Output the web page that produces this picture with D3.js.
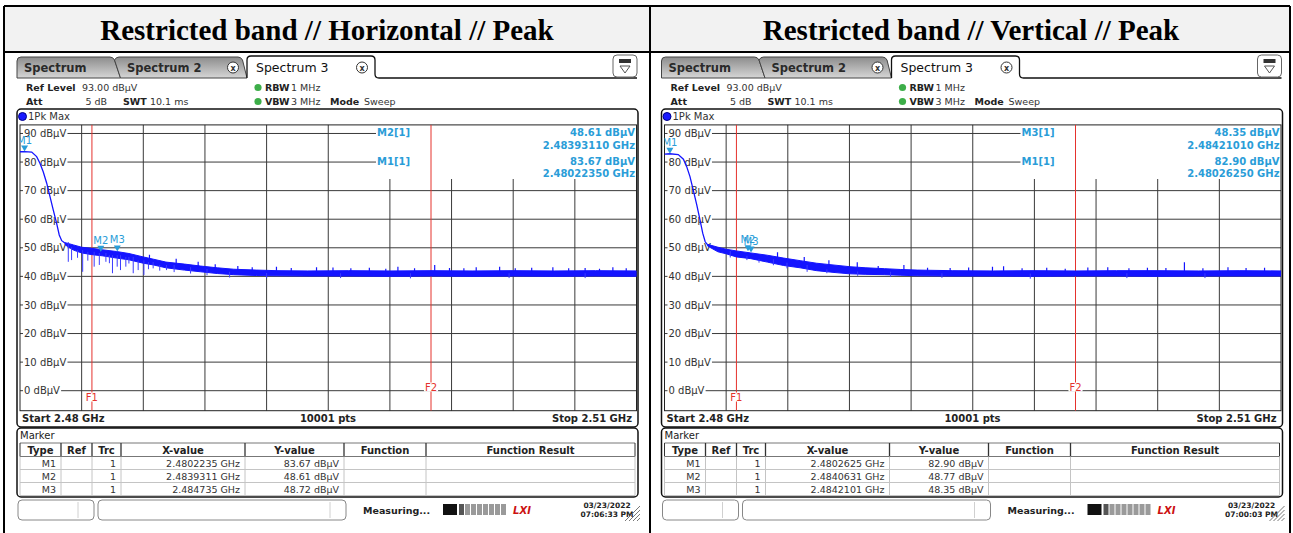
<!DOCTYPE html>
<html>
<head>
  <meta charset="utf-8">
  <script src="https://d3js.org/d3.v7.min.js"></script>
  <style>
    body { margin: 0; background: #fff; }
    svg { display: block; }
    text { font-family: "DejaVu Sans", sans-serif; }
    text.title { font-family: "Liberation Serif", "Times New Roman", serif; }
  </style>
</head>
<body>
<svg id="chart" width="1293" height="533"></svg>
<script>
  // ---- data ----
  const titles = ["Restricted band // Horizontal // Peak", "Restricted band // Vertical // Peak"];
  const freqStart = 2480, freqStop = 2510;        // MHz
  const refLevel = 93, bottomLevel = -7;          // dBµV
  const yTicks = [90, 80, 70, 60, 50, 40, 30, 20, 10, 0];
  const gridFreqs = [2483, 2486, 2489, 2492, 2495, 2498, 2501, 2504, 2507];
  const limitNames = ["F1", "F2"];
  const limitFreqs = [2483.5, 2500.0];
  const tabNames = ["Spectrum", "Spectrum 2", "Spectrum 3"];
  const tableHeads = ["Type", "Ref", "Trc", "X-value", "Y-value", "Function", "Function Result"];

  // horizontal
  const hRollF  = [2480.0, 2480.22, 2480.57, 2480.81, 2480.97, 2481.13, 2481.30, 2481.46, 2481.62, 2481.78, 2481.91, 2482.03, 2482.2];
  const hRollDb = [83.6, 83.67, 83.5, 81.9, 79.6, 76.6, 72.6, 67.9, 63.2, 58.6, 54.5, 52.5, 51.6];
  const hBandF  = [2482.2, 2482.6, 2483.0, 2483.5, 2484.0, 2484.7, 2485.3, 2486.0, 2486.5, 2487.1, 2488.0, 2488.8, 2489.6, 2490.4, 2491.5, 2492.5, 2494.0, 2496.0, 2498.0, 2500.0, 2502.0, 2504.0, 2506.0, 2508.0, 2510.0];
  const hBandHi = [51.8, 51.0, 50.2, 49.8, 49.3, 48.7, 48.0, 46.8, 46.0, 45.0, 44.3, 43.6, 43.0, 42.5, 42.2, 42.0, 41.9, 42.0, 41.9, 42.0, 41.9, 42.0, 41.9, 42.0, 41.9];
  const hBandLo = [51.0, 49.2, 48.2, 47.6, 47.2, 46.4, 45.8, 44.6, 44.0, 43.0, 42.2, 41.6, 41.0, 40.6, 40.3, 40.2, 40.1, 40.1, 40.0, 40.1, 40.0, 40.1, 40.0, 40.1, 40.0];
  const hDipF  = [2482.35, 2482.51, 2482.8, 2483.05, 2483.3, 2483.61, 2483.86, 2484.18, 2484.35, 2484.5, 2484.73, 2484.89, 2485.15, 2485.3, 2485.51, 2485.75, 2486.03, 2486.25, 2486.48, 2486.8, 2487.13, 2487.5, 2488.3, 2489.1, 2490.2, 2492.0, 2495.6, 2499.0, 2503.8, 2507.5];
  const hDipDb = [45.1, 45.7, 46.5, 41.6, 45.5, 43.4, 44.0, 45.1, 44.6, 41.1, 43.4, 42.2, 43.4, 44.5, 41.1, 42.2, 40.5, 42.5, 42.8, 42.0, 42.2, 41.5, 41.0, 40.4, 39.6, 39.4, 39.4, 39.3, 39.4, 39.4];
  const hPeakF  = [2486.3, 2487.6, 2488.67, 2489.5, 2490.6, 2491.3, 2492.48, 2493.2, 2494.43, 2495.23, 2496.1, 2497.0, 2497.8, 2498.39, 2499.2, 2500.18, 2500.9, 2501.6, 2502.2, 2503.34, 2504.1, 2504.9, 2505.93, 2506.7, 2507.5, 2508.2, 2508.85, 2509.5];
  const hPeakDb = [47.6, 46.2, 45.1, 44.2, 43.6, 43.2, 43.4, 42.9, 43.2, 43.1, 42.8, 43.0, 42.7, 43.4, 42.8, 44.0, 42.9, 42.8, 43.2, 43.4, 42.8, 43.0, 43.2, 42.8, 42.9, 42.7, 43.2, 42.8];
  const hMarkNames = ["M1", "M2", "M3"];
  const hMarkF  = [2480.2235, 2483.9311, 2484.735];
  const hMarkDb = [83.67, 48.61, 48.72];
  const hInfo = [["M2[1]", "48.61 dBµV", "2.48393110 GHz"], ["M1[1]", "83.67 dBµV", "2.48022350 GHz"]];
  const hXText = ["2.4802235 GHz", "2.4839311 GHz", "2.484735 GHz"];
  const hYText = ["83.67 dBµV", "48.61 dBµV", "48.72 dBµV"];
  const hStamp = ["03/23/2022", "07:06:33 PM"];

  // vertical
  const vRollF  = [2480.0, 2480.26, 2480.67, 2480.92, 2481.08, 2481.24, 2481.40, 2481.57, 2481.73, 2481.86, 2481.98, 2482.1];
  const vRollDb = [82.8, 82.9, 82.6, 81.0, 78.4, 74.9, 70.2, 65.0, 59.7, 55.1, 52.1, 51.0];
  const vBandF  = [2482.1, 2482.6, 2483.0, 2483.5, 2484.2, 2485.0, 2485.8, 2486.6, 2487.4, 2488.2, 2489.0, 2489.8, 2490.7, 2491.5, 2492.3, 2494.0, 2496.0, 2498.0, 2500.0, 2502.0, 2504.0, 2506.0, 2508.0, 2510.0];
  const vBandHi = [51.2, 50.2, 49.5, 48.9, 48.2, 47.4, 46.4, 45.5, 44.6, 44.0, 43.4, 43.0, 42.7, 42.4, 42.2, 42.0, 41.9, 42.0, 41.9, 42.0, 42.0, 41.9, 42.0, 41.9];
  const vBandLo = [50.6, 48.6, 47.9, 46.8, 46.2, 45.0, 43.8, 43.0, 42.0, 41.4, 40.9, 40.7, 40.6, 40.4, 40.2, 40.1, 40.1, 40.0, 40.1, 40.1, 40.0, 40.1, 40.1, 40.1];
  const vDipF  = [2483.2, 2484.01, 2484.6, 2485.3, 2485.96, 2486.94, 2487.9, 2489.4, 2491.0, 2493.5, 2497.8, 2502.5, 2506.3];
  const vDipDb = [46.6, 45.7, 44.8, 43.9, 42.8, 41.6, 41.1, 40.2, 39.8, 39.5, 39.2, 39.4, 39.4];
  const vPeakF  = [2485.5, 2486.8, 2488.0, 2489.38, 2490.4, 2491.65, 2492.8, 2493.9, 2494.8, 2495.96, 2496.5, 2497.4, 2498.6, 2499.5, 2500.6, 2501.57, 2502.6, 2503.5, 2504.4, 2505.3, 2506.2, 2507.42, 2508.3, 2509.2];
  const vPeakDb = [48.4, 46.8, 45.6, 44.9, 43.6, 44.0, 43.0, 42.9, 43.1, 43.4, 43.5, 42.8, 43.0, 42.7, 43.1, 43.2, 42.8, 43.0, 42.9, 44.9, 42.8, 43.2, 42.9, 43.0];
  const vMarkNames = ["M1", "M2", "M3"];
  const vMarkF  = [2480.2625, 2484.0631, 2484.2101];
  const vMarkDb = [82.90, 48.77, 48.35];
  const vInfo = [["M3[1]", "48.35 dBµV", "2.48421010 GHz"], ["M1[1]", "82.90 dBµV", "2.48026250 GHz"]];
  const vXText = ["2.4802625 GHz", "2.4840631 GHz", "2.4842101 GHz"];
  const vYText = ["82.90 dBµV", "48.77 dBµV", "48.35 dBµV"];
  const vStamp = ["03/23/2022", "07:00:03 PM"];

  const svg = d3.select('#chart');
  const defs = svg.append('defs');
  const tabGrad = defs.append('linearGradient').attr('id', 'tabGrad')
    .attr('x1', 0).attr('y1', 0).attr('x2', 0).attr('y2', 1);
  tabGrad.append('stop').attr('offset', '0%').attr('stop-color', '#8c8c8c');
  tabGrad.append('stop').attr('offset', '100%').attr('stop-color', '#d6d6d6');

  const BLUE = '#1414ff', MARK = '#2a9dd8', RED = '#e5322d';

  function txt(g, x, y, s, o = {}) {
    return g.append('text').attr('x', x).attr('y', y).text(s)
      .attr('font-size', o.size || 10)
      .attr('font-weight', o.bold ? 'bold' : null)
      .attr('fill', o.fill || '#222')
      .attr('text-anchor', o.anchor || 'start');
  }
  // text with a white box behind it so lines under it are hidden
  function boxed(g, x, y, s, o = {}) {
    const t = txt(g, x, y, s, o);
    const b = t.node().getBBox();
    g.insert('rect', () => t.node())
      .attr('x', b.x - 1).attr('y', b.y + 1).attr('width', b.width + 2).attr('height', b.height - 2)
      .attr('fill', '#fff');
    return t;
  }

  // ---- outer table ----
  svg.append('rect').attr('x', 4).attr('y', 6).attr('width', 1286).attr('height', 46).attr('fill', '#f2f2f2');
  [[4, 6, 1290, 6], [4, 52, 1290, 52], [4, 6, 4, 533], [650, 6, 650, 533], [1290, 6, 1290, 533]].forEach(l => {
    svg.append('line').attr('x1', l[0]).attr('y1', l[1]).attr('x2', l[2]).attr('y2', l[3])
      .attr('stroke', '#000').attr('stroke-width', 2);
  });
  [327, 971].forEach((cx, i) => {
    svg.append('text').attr('class', 'title').attr('x', cx).attr('y', 40).attr('text-anchor', 'middle')
      .attr('font-weight', 'bold').attr('font-size', 29).attr('fill', '#000').text(titles[i]);
  });

  function drawPanel(dx, p, id) {
    const g = svg.append('g').attr('transform', `translate(${dx},0)`);
    const x = d3.scaleLinear().domain([freqStart, freqStop]).range([20, 636.5]);
    const y = d3.scaleLinear().domain([bottomLevel, refLevel]).range([410.7, 124.9]);
    const top = y(refLevel), bot = y(bottomLevel), left = x(freqStart), right = x(freqStop);
    const infoLeft = 377;

    // tabs
    g.append('path').attr('d', 'M17,78 V61 Q17,57 21,57 H110 Q113,57 114.5,60 L120.5,78 Z')
      .attr('fill', 'url(#tabGrad)').attr('stroke', '#444');
    g.append('path').attr('d', 'M114.5,60 Q116,57 119,57 H238 Q241,57 242.5,60 L247,78 H120.5 Z')
      .attr('fill', 'url(#tabGrad)').attr('stroke', '#444');
    g.append('path').attr('d', 'M247,78 V60 Q247,56 251,56 H371 Q375,56 375,60 V78 Z').attr('fill', '#fff');
    g.append('path').attr('d', 'M247,78 V60 Q247,56 251,56 H371 Q375,56 375,60 V74 Q375,78 379,78 H637')
      .attr('fill', 'none').attr('stroke', '#111').attr('stroke-width', 1.3);
    txt(g, 24, 72, tabNames[0], { size: 11.5, bold: true, fill: '#2a2a2a' });
    txt(g, 127, 72, tabNames[1], { size: 11.5, bold: true, fill: '#2a2a2a' });
    txt(g, 256, 72, tabNames[2], { size: 12.5, fill: '#111' });
    [233, 362].forEach(cx => {
      g.append('circle').attr('cx', cx).attr('cy', 67.5).attr('r', 5.5).attr('fill', '#fff').attr('stroke', '#333');
      txt(g, cx, 70.5, 'x', { size: 8, bold: true, anchor: 'middle', fill: '#333' });
    });
    g.append('rect').attr('x', 613).attr('y', 55).attr('width', 24).attr('height', 22).attr('rx', 4)
      .attr('fill', '#fff').attr('stroke', '#666');
    g.append('rect').attr('x', 619).attr('y', 59).attr('width', 12).attr('height', 4).attr('fill', '#333');
    g.append('path').attr('d', 'M620,66 H630 L625,73 Z').attr('fill', 'none').attr('stroke', '#555');

    // settings lines
    txt(g, 26, 91, 'Ref Level', { bold: true, size: 9.5 });
    txt(g, 82, 91, '93.00 dBµV', { fill: '#333', size: 9.5 });
    txt(g, 26, 105, 'Att', { bold: true, size: 9.5 });
    txt(g, 107, 105, '5 dB', { anchor: 'end', fill: '#333', size: 9.5 });
    txt(g, 123, 105, 'SWT', { bold: true, size: 9.5 });
    txt(g, 150, 105, '10.1 ms', { fill: '#333', size: 9.5 });
    [87.5, 101.5].forEach(cy => g.append('circle').attr('cx', 258).attr('cy', cy).attr('r', 3.6).attr('fill', '#3dae49'));
    txt(g, 265, 91, 'RBW', { bold: true, size: 9.5 });
    txt(g, 291, 91, '1 MHz', { fill: '#333', size: 9.5 });
    txt(g, 265, 105, 'VBW', { bold: true, size: 9.5 });
    txt(g, 291, 105, '3 MHz', { fill: '#333', size: 9.5 });
    txt(g, 330, 105, 'Mode', { bold: true, size: 9.5 });
    txt(g, 364, 105, 'Sweep', { fill: '#333', size: 9.5 });

    // diagram frame
    g.append('rect').attr('x', 17).attr('y', 109).attr('width', 621).attr('height', 318).attr('rx', 4)
      .attr('fill', '#fff').attr('stroke', '#111').attr('stroke-width', 1.5);
    g.append('circle').attr('cx', 22.5).attr('cy', 116.5).attr('r', 4).attr('fill', '#1a1aff').attr('stroke', '#000088');
    txt(g, 28, 120, '1Pk Max', { fill: '#333' });

    // grid
    g.selectAll('.vg').data(gridFreqs).join('line')
      .attr('x1', d => x(d)).attr('x2', d => x(d))
      .attr('y1', d => x(d) > infoLeft ? 179 : top).attr('y2', bot)
      .attr('stroke', '#3a3a3a').attr('stroke-width', 1);
    g.selectAll('.hg').data(yTicks).join('line')
      .attr('x1', left).attr('x2', d => d >= 80 ? infoLeft - 1 : right)
      .attr('y1', d => y(d)).attr('y2', d => y(d))
      .attr('stroke', '#3a3a3a').attr('stroke-width', 1);
    g.append('rect').attr('x', left).attr('y', top).attr('width', right - left).attr('height', bot - top)
      .attr('fill', 'none').attr('stroke', '#222').attr('stroke-width', 1);
    yTicks.forEach(v => boxed(g, 24, y(v) + 3.6, v + ' dBµV', { fill: '#333' }));

    // marker info box
    p.info.forEach((r, i) => {
      const y0 = [136, 164.5][i];
      txt(g, infoLeft, y0, r[0], { bold: true, fill: MARK });
      txt(g, 635, y0, r[1], { bold: true, fill: MARK, anchor: 'end' });
      txt(g, 635, y0 + 12.5, r[2], { bold: true, fill: MARK, anchor: 'end' });
    });

    // limit lines
    limitFreqs.forEach((f, i) => {
      g.append('line').attr('x1', x(f)).attr('x2', x(f)).attr('y1', top).attr('y2', bot)
        .attr('stroke', RED).attr('stroke-width', 1);
      boxed(g, x(f), i === 0 ? 400.5 : 390.5, limitNames[i], { fill: RED, anchor: 'middle' });
    });

    // trace
    const clip = defs.append('clipPath').attr('id', 'clip' + id);
    clip.append('rect').attr('x', left).attr('y', top).attr('width', right - left).attr('height', bot - top);
    const tg = g.append('g').attr('clip-path', `url(#clip${id})`);
    const roll = p.rollF.map((f, i) => ({ f, v: p.rollDb[i] }));
    const band = p.bandF.map((f, i) => ({ f, hi: p.bandHi[i], lo: p.bandLo[i] }));
    tg.append('path').datum(roll)
      .attr('d', d3.line().x(d => x(d.f)).y(d => y(d.v)))
      .attr('fill', 'none').attr('stroke', BLUE).attr('stroke-width', 1.3);
    tg.append('path').datum(band)
      .attr('d', d3.area().x(d => x(d.f)).y0(d => y(d.lo)).y1(d => y(d.hi)))
      .attr('fill', BLUE).attr('stroke', BLUE).attr('stroke-width', 1);
    const near = f => band[Math.min(band.length - 1, d3.bisector(d => d.f).center(band, f))];
    tg.selectAll('.dip').data(p.dipF).join('line')
      .attr('x1', d => x(d)).attr('x2', d => x(d))
      .attr('y1', d => y(near(d).lo + 1)).attr('y2', (d, i) => y(p.dipDb[i]))
      .attr('stroke', '#3b3bff').attr('stroke-width', 1);
    tg.selectAll('.pk').data(p.peakF).join('line')
      .attr('x1', d => x(d)).attr('x2', d => x(d))
      .attr('y1', d => y(near(d).hi - 0.5)).attr('y2', (d, i) => y(p.peakDb[i]))
      .attr('stroke', BLUE).attr('stroke-width', 1.2);

    // markers
    const mg = g.append('g').attr('clip-path', `url(#clip${id})`);
    p.markF.forEach((f, i) => {
      const mx = x(f), my = y(p.markDb[i]);
      mg.append('path').attr('d', `M${mx - 3.5},${my - 6} H${mx + 3.5} L${mx},${my} Z`).attr('fill', MARK);
      txt(mg, mx, my - 8, p.markNames[i], { fill: MARK, anchor: 'middle' });
    });

    // start / stop row
    txt(g, 22, 422, 'Start 2.48 GHz', { bold: true });
    txt(g, 328, 422, '10001 pts', { bold: true, anchor: 'middle' });
    txt(g, 632, 422, 'Stop 2.51 GHz', { bold: true, anchor: 'end' });

    // marker table
    g.append('rect').attr('x', 17).attr('y', 428).attr('width', 621).attr('height', 69).attr('rx', 4)
      .attr('fill', '#fff').attr('stroke', '#111').attr('stroke-width', 1.5);
    txt(g, 20, 438.5, 'Marker', { fill: '#222' });
    const cols = [20, 61, 92, 121, 245, 344, 426, 635];
    const rowsY = [443, 456.5, 469.5, 482.5, 495.5];
    rowsY.forEach((ry, i) => g.append('line').attr('x1', cols[0]).attr('x2', cols[7]).attr('y1', ry).attr('y2', ry)
      .attr('stroke', i < 2 ? '#777' : '#c4c4c4'));
    cols.forEach((cx, i) => {
      g.append('line').attr('x1', cx).attr('x2', cx).attr('y1', 443).attr('y2', 456.5)
        .attr('stroke', '#333').attr('stroke-width', i === 0 || i === 7 ? 1 : 1.3);
      g.append('line').attr('x1', cx).attr('x2', cx).attr('y1', 456.5).attr('y2', 495.5).attr('stroke', '#c4c4c4');
    });
    tableHeads.forEach((h, i) => txt(g, (cols[i] + cols[i + 1]) / 2, 453.5, h, { bold: true, anchor: 'middle', size: 10, fill: '#222' }));
    p.markNames.forEach((m, r) => {
      const by = 466.5 + r * 13;
      const cells = [m, '', '1', p.xText[r], p.yText[r]];
      cells.forEach((c, i) => txt(g, cols[i + 1] - 5, by, c, { anchor: 'end', size: 9.5, fill: '#333' }));
    });

    // status bar
    [[18, 94, 78], [98, 346, 330]].forEach(b => {
      g.append('rect').attr('x', b[0]).attr('y', 500).attr('width', b[1] - b[0]).attr('height', 20).attr('rx', 4)
        .attr('fill', '#fff').attr('stroke', '#888');
      g.append('line').attr('x1', b[2]).attr('x2', b[2]).attr('y1', 502).attr('y2', 518).attr('stroke', '#d0d0d0');
    });
    txt(g, 363, 514, 'Measuring...', { bold: true, size: 9.5, fill: '#222' });
    g.append('rect').attr('x', 443).attr('y', 504).attr('width', 14).attr('height', 11).attr('fill', '#111');
    d3.range(8).forEach(k => g.append('rect').attr('x', 459 + k * 6).attr('y', 504).attr('width', 5).attr('height', 11)
      .attr('fill', k === 0 ? '#555' : '#9a9a9a'));
    txt(g, 522, 514, 'LXI', { bold: true, size: 10, fill: '#cc1111', anchor: 'middle' }).attr('font-style', 'italic');
    txt(g, 607, 508, p.stamp[0], { bold: true, size: 7.5, anchor: 'middle', fill: '#222' });
    txt(g, 607, 517, p.stamp[1], { bold: true, size: 7.5, anchor: 'middle', fill: '#222' });
    d3.range(4).forEach(k => g.append('line').attr('x1', 625 + k * 4).attr('y1', 521).attr('x2', 640).attr('y2', 506 + k * 4)
      .attr('stroke', '#777'));
  }

  drawPanel(0, {
    rollF: hRollF, rollDb: hRollDb, bandF: hBandF, bandHi: hBandHi, bandLo: hBandLo,
    dipF: hDipF, dipDb: hDipDb, peakF: hPeakF, peakDb: hPeakDb,
    markNames: hMarkNames, markF: hMarkF, markDb: hMarkDb, info: hInfo,
    xText: hXText, yText: hYText, stamp: hStamp
  }, 'H');
  drawPanel(644.5, {
    rollF: vRollF, rollDb: vRollDb, bandF: vBandF, bandHi: vBandHi, bandLo: vBandLo,
    dipF: vDipF, dipDb: vDipDb, peakF: vPeakF, peakDb: vPeakDb,
    markNames: vMarkNames, markF: vMarkF, markDb: vMarkDb, info: vInfo,
    xText: vXText, yText: vYText, stamp: vStamp
  }, 'V');
</script>
</body>
</html>
